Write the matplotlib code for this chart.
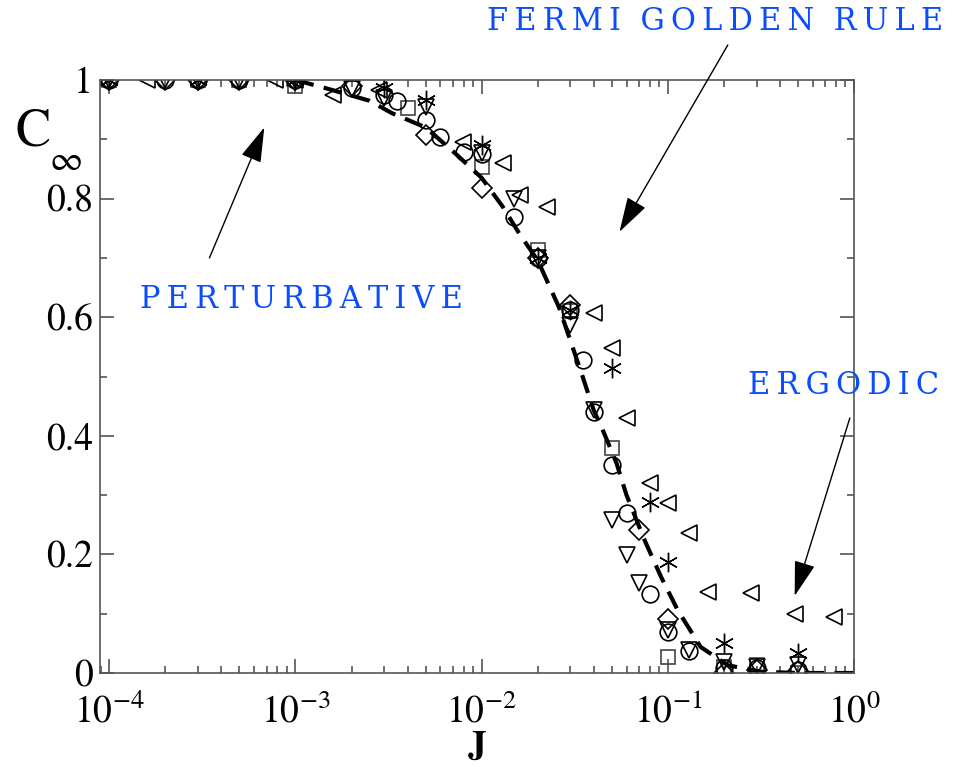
import numpy as np
import matplotlib
matplotlib.use("Agg")
import matplotlib.pyplot as plt
from matplotlib.ticker import FixedLocator, FixedFormatter, LogLocator, NullFormatter

plt.rcParams['font.family'] = ['STIXGeneral', 'DejaVu Serif']
plt.rcParams['mathtext.fontset'] = 'stix'

# data (J, C_inf) for each symbol set
circ_J = [1e-4, 2e-4, 3e-4, 5e-4, 1e-3, 2e-3, 3e-3, 3.5e-3, 5e-3, 6e-3, 8e-3, 1e-2, 1.5e-2,
          2e-2, 3e-2, 3.5e-2, 4e-2, 5e-2, 6e-2, 8e-2, 0.1, 0.13, 0.2, 0.3, 0.5]
circ_C = [1, 1, 1, 1, 1, 0.987, 0.975, 0.965, 0.933, 0.904, 0.879, 0.875, 0.769,
          0.70, 0.612, 0.528, 0.44, 0.351, 0.27, 0.133, 0.069, 0.037, 0.008, 0.008, 0.005]

diam_J = [1e-4, 2e-4, 3e-4, 5e-4, 1e-3, 2e-3, 5e-3, 1e-2, 2e-2, 3e-2, 7e-2, 0.1, 0.2, 0.3, 0.5]
diam_C = [1, 1, 1, 1, 1, 0.99, 0.907, 0.818, 0.70, 0.62, 0.241, 0.091, 0.0, 0.005, 0.003]

dtri_J = [1e-4, 2e-4, 3e-4, 5e-4, 1e-3, 2e-3, 3e-3, 5e-3, 1e-2, 1.5e-2, 2e-2, 3e-2, 4e-2,
          5e-2, 6e-2, 7e-2, 0.1, 0.13, 0.2, 0.3, 0.5]
dtri_C = [1, 1, 1, 1, 1, 0.985, 0.97, 0.955, 0.877, 0.80, 0.70, 0.587, 0.443,
          0.258, 0.199, 0.152, 0.073, 0.039, 0.019, 0.01, 0.013]

sq_J = [1e-4, 3e-4, 5e-4, 1e-3, 4e-3, 1e-2, 2e-2, 3e-2, 5e-2, 0.1, 0.2, 0.3, 0.5]
sq_C = [1, 1, 1, 0.99, 0.953, 0.853, 0.713, 0.61, 0.379, 0.027, 0.01, 0.013, 0.0]

star_J = [1e-4, 3e-4, 1e-3, 3e-3, 5e-3, 1e-2, 2e-2, 3e-2, 5e-2, 8e-2, 0.1, 0.2, 0.5]
star_C = [1, 1, 1, 0.987, 0.966, 0.89, 0.70, 0.612, 0.514, 0.288, 0.187, 0.051, 0.034]

ltri_J = [1.6e-4, 7.8e-4, 1e-3, 1.6e-3, 2.8e-3, 7.9e-3, 1.3e-2, 1.6e-2, 2.25e-2, 4e-2,
          5e-2, 6e-2, 8e-2, 0.1, 0.13, 0.165, 0.28, 0.48, 0.78]
ltri_C = [1, 1, 1, 0.975, 0.983, 0.895, 0.86, 0.806, 0.786, 0.607,
          0.548, 0.43, 0.32, 0.287, 0.236, 0.137, 0.135, 0.1, 0.094]

# dashed theory curve
curve_J = [1e-3, 1.5e-3, 2.5e-3, 3.3e-3, 5e-3, 7e-3, 1e-2, 1.3e-2, 1.6e-2, 2e-2, 2.6e-2,
           3e-2, 3.4e-2, 4e-2, 4.4e-2, 5.3e-2, 6e-2, 7.5e-2, 9.2e-2, 0.113, 0.15, 0.21,
           0.32, 0.5, 1.0]
curve_C = [1.0, 0.985, 0.965, 0.944, 0.92, 0.88, 0.835, 0.786, 0.74, 0.696, 0.617,
           0.56, 0.51, 0.443, 0.415, 0.354, 0.30, 0.224, 0.162, 0.106, 0.044, 0.013,
           0.002, 0.0, 0.0]

yticks = [0, 0.2, 0.4, 0.6, 0.8, 1.0]
ytick_labels = ["0", "0.2", "0.4", "0.6", "0.8", "1"]
xticks = [1e-4, 1e-3, 1e-2, 1e-1, 1e0]
xtick_labels = [r"$10^{-4}$", r"$10^{-3}$", r"$10^{-2}$", r"$10^{-1}$", r"$10^{0}$"]

fig = plt.figure(figsize=(9.59, 7.67), dpi=100)
ax = fig.add_axes([100 / 959, 94 / 767, 754 / 959, 593 / 767])

mk = dict(linestyle='none', markerfacecolor='none', markeredgecolor='black', markeredgewidth=1.2)
ax.plot(sq_J, sq_C, marker='s', markersize=10, **{**mk, 'markeredgecolor': '#444444'})
ax.plot(circ_J, circ_C, marker='o', markersize=12, **mk)
ax.plot(diam_J, diam_C, marker='D', markersize=10, **mk)
ax.plot(dtri_J, dtri_C, marker='v', markersize=11, **mk)
ax.plot(ltri_J, ltri_C, marker='<', markersize=11, **mk)
ax.plot(star_J, star_C, marker=(6, 2, 0), markersize=14, **{**mk, 'markeredgewidth': 1.0})

ax.plot(curve_J, curve_C, color='black', lw=3, dashes=(4.5, 2.5))

ax.set_xscale('log')
ax.set_xlim(10 ** -4.05, 1.0)
ax.set_ylim(0, 1)

ax.xaxis.set_major_locator(FixedLocator(xticks))
ax.xaxis.set_major_formatter(FixedFormatter(xtick_labels))
ax.xaxis.set_minor_locator(LogLocator(base=10, subs=np.arange(2, 10)))
ax.xaxis.set_minor_formatter(NullFormatter())
ax.yaxis.set_major_locator(FixedLocator(yticks))
ax.yaxis.set_major_formatter(FixedFormatter(ytick_labels))
ax.yaxis.set_minor_locator(FixedLocator([0.1, 0.3, 0.5, 0.7, 0.9]))

ax.tick_params(which='both', direction='in', top=True, right=True, color='#555555', width=1.2)
ax.tick_params(which='major', length=10, labelsize=27)
ax.tick_params(which='minor', length=5)
ax.tick_params(axis='x', pad=15)
ax.tick_params(axis='y', pad=5)
for s in ax.spines.values():
    s.set_color('#555555')
    s.set_linewidth(1.2)

# y label: C with an infinity subscript
fig.text(33 / 959, 1 - 133 / 767, "C", fontsize=38, ha='center', va='center')
fig.text(50 / 959, 1 - 161 / 767, "\u221e", fontsize=26, ha='left', va='center')
fig.text(477 / 959, 1 - 748 / 767, "J", fontsize=27, fontweight='bold', ha='center', va='center')

blue = '#0a4dff'
ts = dict(color=blue, family='DejaVu Serif', fontsize=22, va='center', ha='center')
sp = '\u2009'
fig.text(715 / 959, 1 - 22 / 767, sp.join("FERMI") + "  " + sp.join("GOLDEN") + "  " + sp.join("RULE"),
         **ts)
fig.text(301 / 959, 1 - 300 / 767, sp.join("PERTURBATIVE"), **ts)
fig.text(844 / 959, 1 - 385 / 767, sp.join("ERGODIC"), **ts)

ap = dict(arrowstyle='-|>,head_length=1.0,head_width=0.3', color='black', lw=1,
          mutation_scale=22, shrinkA=0, shrinkB=0)
ax.annotate("", xy=(6.8e-4, 0.92), xytext=(3.45e-4, 0.70), arrowprops=ap, annotation_clip=False)
ax.annotate("", xy=(0.055, 0.744), xytext=(0.21, 1.059), arrowprops=ap, annotation_clip=False)
ax.annotate("", xy=(0.48, 0.13), xytext=(0.95, 0.43), arrowprops=ap, annotation_clip=False)

fig.savefig("out.png", dpi=100)
